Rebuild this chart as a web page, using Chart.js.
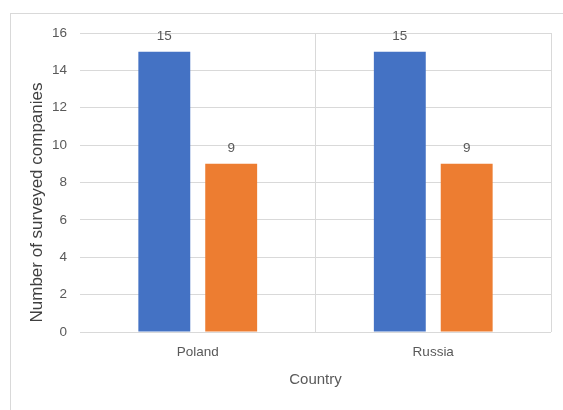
<!DOCTYPE html>
<html>
<head>
<meta charset="utf-8">
<script src="https://cdn.jsdelivr.net/npm/chart.js@4"></script>
<style>
  html, body { margin: 0; padding: 0; background: #fff; }
  #wrap { position: relative; width: 563px; height: 410px; overflow: hidden; }
  #frame { position: absolute; left: 10px; top: 13px; right: -2px; bottom: -2px;
           border-top: 1px solid #d9d9d9; border-left: 1px solid #d9d9d9; }
  canvas { position: absolute; left: 0; top: 0; }
</style>
</head>
<body>
<div id="wrap">
  <div id="frame"></div>
  <canvas id="chart" width="563" height="410"></canvas>
</div>
<script>
/* values */
const COUNTRIES = ['Poland', 'Russia'];
const SERIES_BLUE = [15, 15];
const SERIES_ORANGE = [9, 9];
const Y_TICKS = [0, 2, 4, 6, 8, 10, 12, 14, 16];
const Y_TITLE = 'Number of surveyed companies';

const INK = '#595959';
const GRID = '#d9d9d9';
const FONT = "'Liberation Sans', Arial, sans-serif";

/* value labels above each bar + y title (Excel puts it a bit below centre) */
const extras = {
  id: 'extras',
  afterDatasetsDraw(chart) {
    const ctx = chart.ctx;
    ctx.save();
    ctx.font = '13.5px ' + FONT;
    ctx.fillStyle = INK;
    ctx.textAlign = 'center';
    ctx.textBaseline = 'alphabetic';
    chart.data.datasets.forEach((ds, i) => {
      chart.getDatasetMeta(i).data.forEach((bar, j) => {
        ctx.fillText(String(ds.data[j]), bar.x, bar.y - 12);
      });
    });
    // y axis title
    const a = chart.chartArea;
    ctx.translate(37.5, (a.top + a.bottom) / 2 + 20);
    ctx.rotate(-Math.PI / 2);
    ctx.font = '17px ' + FONT;
    ctx.fillStyle = '#404040';
    ctx.textBaseline = 'middle';
    ctx.fillText(Y_TITLE, 0, 0);
    ctx.restore();
  }
};

new Chart(document.getElementById('chart'), {
  type: 'bar',
  data: {
    labels: COUNTRIES,
    datasets: [
      { data: SERIES_BLUE, backgroundColor: '#4472c4', categoryPercentage: 0.568, barPercentage: 0.776 },
      { data: SERIES_ORANGE, backgroundColor: '#ed7d31', categoryPercentage: 0.568, barPercentage: 0.776 }
    ]
  },
  options: {
    responsive: false,
    animation: false,
    layout: { padding: { top: 33, right: 12, left: 0, bottom: 0 } },
    plugins: { legend: { display: false }, tooltip: { enabled: false } },
    scales: {
      x: {
        grid: {
          color: (c) => c.index === 0 ? 'rgba(0,0,0,0)' : GRID,
          drawTicks: false
        },
        border: { display: false },
        ticks: { color: INK, font: { family: FONT, size: 13.5 }, padding: 12 },
        title: { display: true, text: 'Country', color: INK,
                 font: { family: FONT, size: 15 }, padding: { top: 0, bottom: 21 } },
        afterFit: (s) => { s.height = 78; }
      },
      y: {
        min: 0, max: 16,
        afterBuildTicks: (s) => { s.ticks = Y_TICKS.map(v => ({ value: v })); },
        grid: { color: GRID, drawTicks: false },
        border: { display: false },
        ticks: { color: INK, font: { family: FONT, size: 13.5 }, padding: 13 },
        afterFit: (s) => { s.width = 80; }
      }
    }
  },
  plugins: [extras]
});
</script>
</body>
</html>
